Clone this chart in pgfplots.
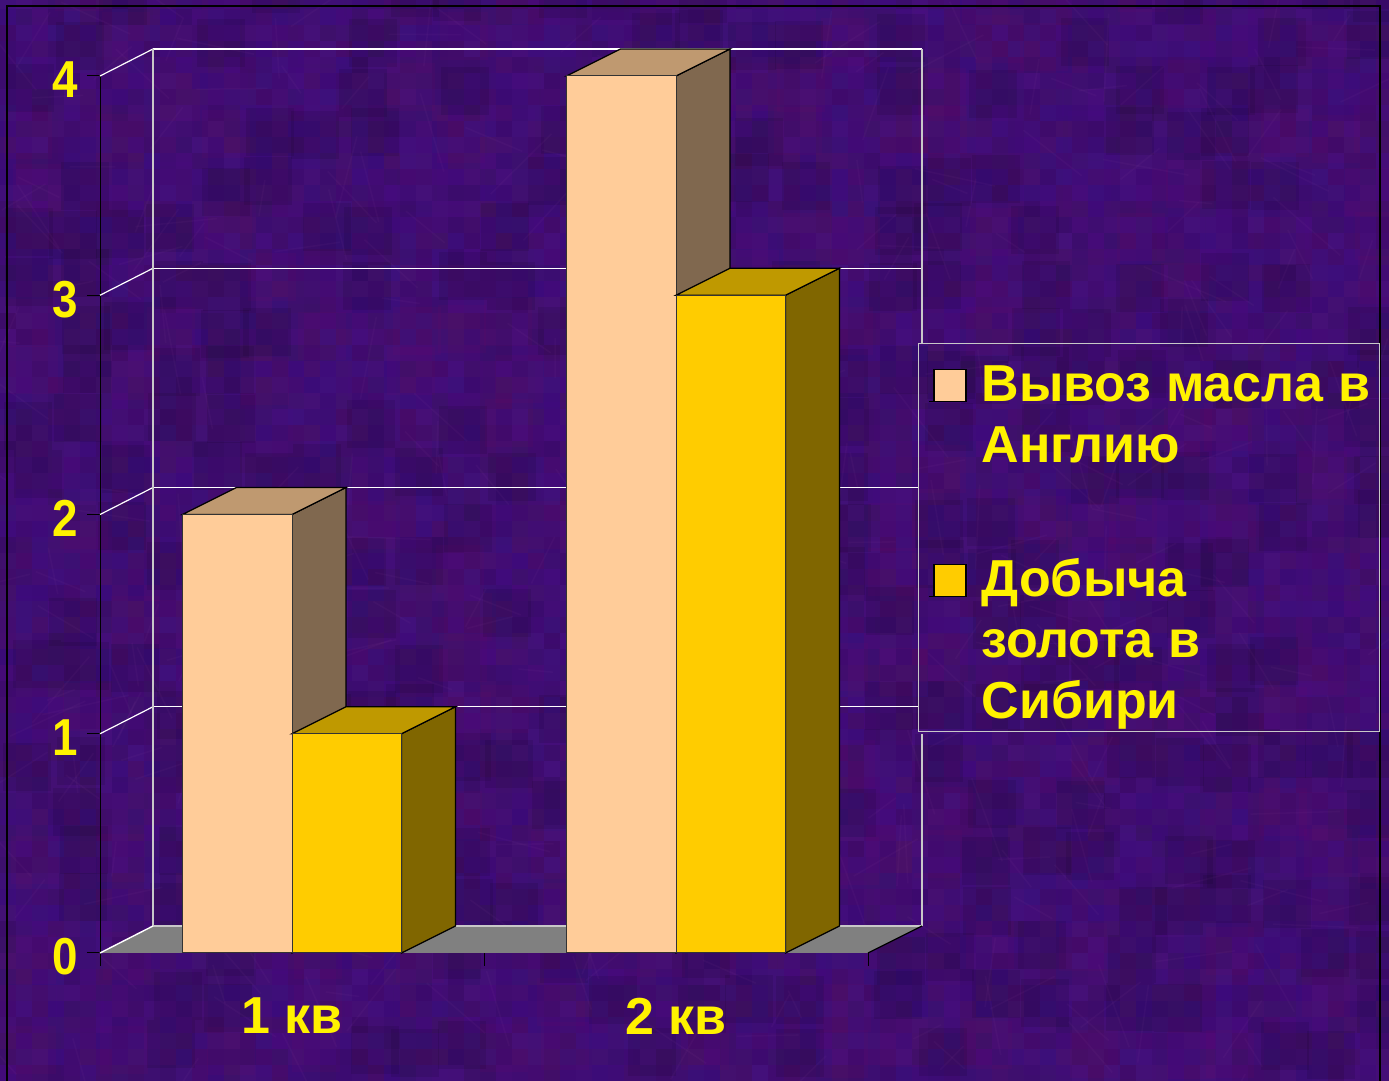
\documentclass[border=0pt]{standalone}
\usepackage{fontspec}
\setmainfont{Liberation Sans}
\usepackage{pgfplots}
\pgfplotsset{compat=1.18}
\definecolor{peach}{HTML}{FFCC99}
\definecolor{peachside}{HTML}{80684F}
\definecolor{peachtop}{HTML}{BF9970}
\definecolor{gold}{HTML}{FFCC00}
\definecolor{goldside}{HTML}{806600}
\definecolor{goldtop}{HTML}{BF9900}
\definecolor{wallgrey}{HTML}{C8C8C8}
\newcommand{\chartfont}{\fontsize{26}{30}\selectfont\bfseries}
\begin{document}
\begin{tikzpicture}[x=1pt,y=1pt]
\useasboundingbox (0,0) rectangle (694.5,540.5);
\begin{scope}
\clip (0,0) rectangle (694.5,540.5);
\pgfmathsetseed{4711}
% mottled background: fine cells
\foreach \ix in {0,...,86}{
  \foreach \iy in {0,...,67}{
    \pgfmathsetmacro{\rr}{int(58+rnd*11)}
    \pgfmathsetmacro{\gg}{int(11+rnd*7)}
    \pgfmathsetmacro{\bb}{int(104+rnd*18)}
    \definecolor{cell}{RGB}{\rr,\gg,\bb}
    \fill[cell] (\ix*8,\iy*8) rectangle ++(8.4,8.4);
  }
}
% coarse darker and lighter patches
\foreach \ix in {0,...,28}{
  \foreach \iy in {0,...,22}{
    \pgfmathsetmacro{\kind}{rnd}
    \pgfmathsetmacro{\ox}{\ix*24+rnd*8}
    \pgfmathsetmacro{\oy}{\iy*24+rnd*8}
    \ifdim\kind pt<0.4pt
      \fill[black,opacity=0.09] (\ox,\oy) rectangle ++(24,24);
    \else\ifdim\kind pt<0.75pt
      \fill[violet!70!blue,opacity=0.05] (\ox,\oy) rectangle ++(24,24);
    \else
      \fill[purple!60!violet,opacity=0.06] (\ox,\oy) rectangle ++(24,24);
    \fi\fi
  }
}
% fibres
\foreach \i in {1,...,350}{
  \pgfmathsetmacro{\cx}{rnd*694.5}
  \pgfmathsetmacro{\cy}{rnd*540.5}
  \pgfmathsetmacro{\ang}{rnd*360}
  \pgfmathsetmacro{\len}{15+rnd*30}
  \draw[violet!60!white,opacity=0.05,line width=0.8pt] (\cx,\cy) -- ++(\ang:\len);
}
\end{scope}
\draw[black,line width=0.6pt] (3.5,0) -- (3.5,537.5) -- (690,537.5) -- (690,0);
\begin{axis}[
  at={(50pt,64pt)}, anchor=south west,
  scale only axis, width=384pt, height=438.5pt,
  xmin=0, xmax=2, ymin=0, ymax=4,
  clip=false,
  axis lines=left, axis line style={-,black,line width=0.5pt},
  tick style={black,line width=0.5pt},
  tick align=outside, major tick length=6.5pt,
  xtick={0,1,2}, xticklabels={,,},
  ytick={0,1,2,3,4},
  /pgf/number format/assume math mode=true,
  yticklabel={\scalebox{0.88}[1]{\pgfmathprintnumber{\tick}}},
  yticklabel style={font=\chartfont, text=yellow, yshift=-2pt, xshift=-1pt},
  extra x ticks={0.5,1.5},
  extra x tick labels={1 кв,2 кв},
  extra x tick style={major tick length=0pt,
     xticklabel style={font=\chartfont, text=yellow, yshift=-19pt}},
  legend style={at={(axis cs:2.130,2.782)}, anchor=north west,
     draw=wallgrey, line width=0.5pt, fill=none, font=\chartfont, text=yellow,
     cells={anchor=base west}, row sep=0pt, inner xsep=5pt, inner ysep=3pt},
]
% walls and floor
\draw[white,line width=0.6pt] (axis cs:0.1380,4.1231) -- (axis cs:2.1406,4.1231);
\draw[white,line width=0.6pt] (axis cs:0.1380,3.1231) -- (axis cs:2.1406,3.1231);
\draw[white,line width=0.6pt] (axis cs:0.1380,2.1231) -- (axis cs:2.130,2.1231);
\draw[white,line width=0.6pt] (axis cs:0.1380,1.1231) -- (axis cs:2.130,1.1231);
\foreach \v in {1,2,3,4}{
  \edef\tmp{\noexpand\draw[white,line width=0.6pt] (axis cs:0,\v) -- (axis cs:0.1380,\v.1231);}\tmp
}
\draw[wallgrey,line width=0.6pt] (axis cs:0.1380,0.1231) -- (axis cs:0.1380,4.1231);
\draw[wallgrey,line width=0.6pt] (axis cs:2.1406,4.1231) -- (axis cs:2.1406,2.782);
\draw[wallgrey,line width=0.6pt] (axis cs:2.1406,0.999) -- (axis cs:2.1406,0.1231);
\addplot[fill=gray, draw=none, forget plot] coordinates {(0,0) (2,0) (2.1406,0.1231) (0.1380,0.1231)} -- cycle;
\draw[wallgrey,line width=1pt] (axis cs:0.1380,0.1231) -- (axis cs:2.1406,0.1231);
\draw[white,line width=0.7pt] (axis cs:0,0) -- (axis cs:0.1380,0.1231);
\draw[black,line width=0.6pt] (axis cs:2,0) -- (axis cs:2.1406,0.1231);
% peach
\addplot[fill=peachside, draw=black, line width=0.6pt, forget plot] coordinates {(0.5,0) (0.6406,0.1231) (0.6406,2.1231) (0.5,2)} -- cycle;
\addplot[fill=peachtop, draw=black, line width=0.6pt, forget plot] coordinates {(0.2148,2) (0.3554,2.1231) (0.6406,2.1231) (0.5,2)} -- cycle;
\addplot[fill=peachside, draw=black, line width=0.6pt, forget plot] coordinates {(1.5,0) (1.6406,0.1231) (1.6406,4.1231) (1.5,4)} -- cycle;
\addplot[fill=peachtop, draw=black, line width=0.6pt, forget plot] coordinates {(1.2148,4) (1.3554,4.1231) (1.6406,4.1231) (1.5,4)} -- cycle;
\addplot[ybar, bar width=0.2852, bar shift=-0.1426, fill=peach, draw=black!80, line width=0.5pt, forget plot]
  coordinates {(0.5,2) (1.5,4)};
% gold
\addplot[fill=goldside, draw=black, line width=0.6pt, forget plot] coordinates {(0.7852,0) (0.9258,0.1231) (0.9258,1.1231) (0.7852,1)} -- cycle;
\addplot[fill=goldtop, draw=black, line width=0.6pt, forget plot] coordinates {(0.5,1) (0.6406,1.1231) (0.9258,1.1231) (0.7852,1)} -- cycle;
\addplot[fill=goldside, draw=black, line width=0.6pt, forget plot] coordinates {(1.7852,0) (1.9258,0.1231) (1.9258,3.1231) (1.7852,3)} -- cycle;
\addplot[fill=goldtop, draw=black, line width=0.6pt, forget plot] coordinates {(1.5,3) (1.6406,3.1231) (1.9258,3.1231) (1.7852,3)} -- cycle;
\addplot[ybar, bar width=0.2852, bar shift=0.1426, fill=gold, draw=black!80, line width=0.5pt, forget plot]
  coordinates {(0.5,1) (1.5,3)};
% legend
\addlegendimage{legend image code/.code={\path (0pt,0pt) -- (18.5pt,0pt); \draw[fill=peach,draw=black,line width=0.6pt] (2.5pt,0pt) rectangle (18.5pt,16pt);}}
\addlegendentry{\hspace*{5.5pt}\rule{0pt}{24pt}Вывоз масла в\hspace*{-2.5pt}}
\addlegendimage{empty legend}
\addlegendentry{\hspace*{5.5pt}\rule{0pt}{25pt}Англию}
\addlegendimage{empty legend}
\addlegendentry{\rule{0pt}{24.5pt}}
\addlegendimage{legend image code/.code={\path (0pt,0pt) -- (18.5pt,0pt); \draw[fill=gold,draw=black,line width=0.6pt] (2.5pt,0pt) rectangle (18.5pt,16pt);}}
\addlegendentry{\hspace*{5.5pt}\rule{0pt}{31.5pt}Добыча}
\addlegendimage{empty legend}
\addlegendentry{\hspace*{5.5pt}\rule{0pt}{25pt}золота в}
\addlegendimage{empty legend}
\addlegendentry{\hspace*{5.5pt}\rule{0pt}{25pt}\rule[-8.5pt]{0pt}{8.5pt}Сибири}
\end{axis}
\end{tikzpicture}
\end{document}
